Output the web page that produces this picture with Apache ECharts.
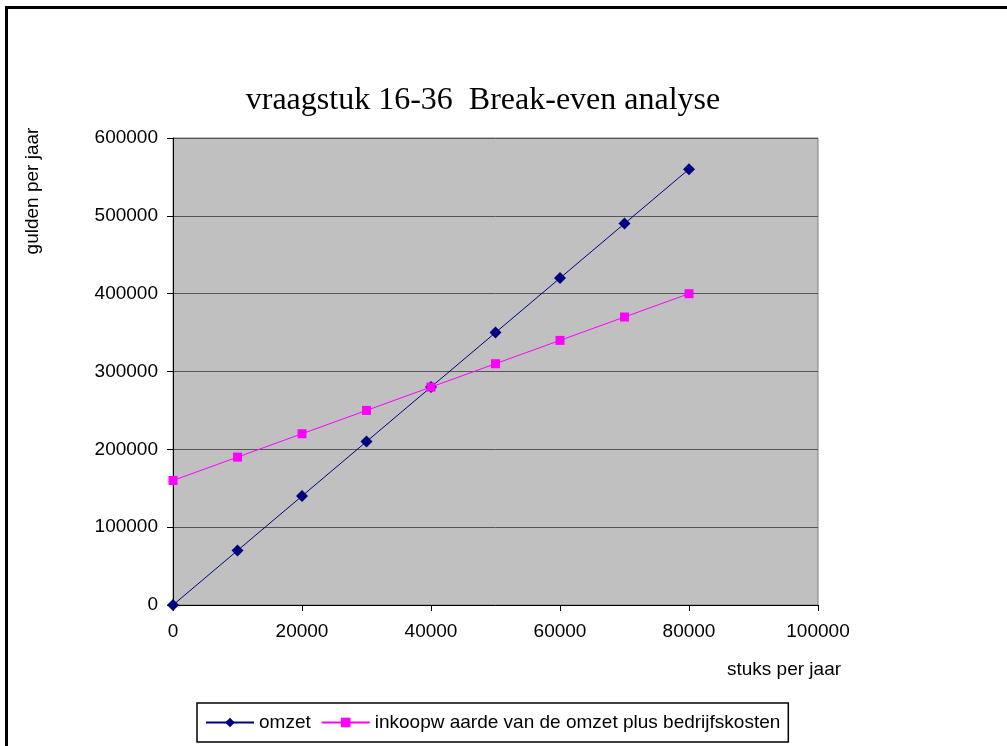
<!DOCTYPE html>
<html>
<head>
<meta charset="utf-8">
<script src="https://cdn.jsdelivr.net/npm/echarts@6/dist/echarts.min.js"></script>
<style>
  html, body { margin: 0; padding: 0; background: #fff; }
  #chart { width: 1007px; height: 746px; }
</style>
</head>
<body>
<div id="chart"></div>
<script>
// stuks per jaar
const stuks = [0, 10000, 20000, 30000, 40000, 50000, 60000, 70000, 80000];
// gulden per jaar
const omzet = [0, 70000, 140000, 210000, 280000, 350000, 420000, 490000, 560000];
const kosten = [160000, 190000, 220000, 250000, 280000, 310000, 340000, 370000, 400000];

const seriesNames = ["omzet", "inkoopw aarde van de omzet plus bedrijfskosten"];

let myChart = echarts.init(document.getElementById("chart"));
let option = {
  backgroundColor: "#fff",
  animation: false,
  title: {
    text: "vraagstuk 16-36  Break-even analyse",
    left: 478,
    textAlign: "center",
    top: 80,
    textStyle: {
      fontFamily: "Liberation Serif",
      fontWeight: "normal",
      fontSize: 32,
      color: "#000"
    }
  },
  graphic: [
    {
      type: "rect",
      shape: { x: 6.5, y: 7.5, width: 1100, height: 900 },
      style: { fill: "none", stroke: "#000", lineWidth: 3 },
      silent: true
    },
    {
      type: "text",
      x: 33,
      y: 191,
      rotation: Math.PI / 2,
      style: {
        text: "gulden per jaar",
        font: "19px 'Liberation Sans'",
        fill: "#000",
        align: "center",
        verticalAlign: "middle"
      }
    },
    {
      type: "text",
      x: 784,
      y: 670,
      style: {
        text: "stuks per jaar",
        font: "19px 'Liberation Sans'",
        fill: "#000",
        align: "center",
        verticalAlign: "middle"
      }
    }
  ],
  legend: {
    bottom: 4,
    left: 197,
    padding: [10, 8, 10, 8],
    borderColor: "#000",
    borderWidth: 1.5,
    itemWidth: 48,
    itemHeight: 12,
    itemGap: 10,
    textStyle: {
      fontFamily: "Liberation Sans",
      fontSize: 19,
      color: "#000"
    },
    data: seriesNames
  },
  grid: {
    left: 173,
    right: 189,
    top: 138,
    bottom: 141,
    show: true,
    backgroundColor: "#c0c0c0",
    borderColor: "#808080",
    borderWidth: 1
  },
  xAxis: {
    type: "value",
    min: 0,
    max: 100000,
    interval: 20000,
    axisLine: { show: true, onZero: false, lineStyle: { color: "#000", width: 1 } },
    axisTick: { show: true, length: 6, lineStyle: { color: "#000" } },
    splitLine: { show: false },
    axisLabel: {
      margin: 17,
      formatter: v => String(v),
      fontFamily: "Liberation Sans",
      fontSize: 19,
      color: "#000"
    }
  },
  yAxis: {
    type: "value",
    min: 0,
    max: 600000,
    interval: 100000,
    axisLine: { show: true, lineStyle: { color: "#000", width: 1 } },
    axisTick: { show: true, length: 6, lineStyle: { color: "#000" } },
    splitLine: { show: true, lineStyle: { color: "#555", width: 1 } },
    axisLabel: {
      margin: 15,
      formatter: v => String(v),
      fontFamily: "Liberation Sans",
      fontSize: 19,
      color: "#000"
    }
  },
  series: [
    {
      name: seriesNames[0],
      type: "line",
      data: stuks.map((x, i) => [x, omzet[i]]),
      symbol: "diamond",
      symbolSize: 12,
      color: "#000080",
      lineStyle: { color: "#000080", width: 1 },
      itemStyle: { color: "#000080" }
    },
    {
      name: seriesNames[1],
      type: "line",
      data: stuks.map((x, i) => [x, kosten[i]]),
      symbol: "rect",
      symbolSize: 9,
      color: "#ff00ff",
      lineStyle: { color: "#ff00ff", width: 1 },
      itemStyle: { color: "#ff00ff" }
    }
  ]
};
myChart.setOption(option);
</script>
</body>
</html>
